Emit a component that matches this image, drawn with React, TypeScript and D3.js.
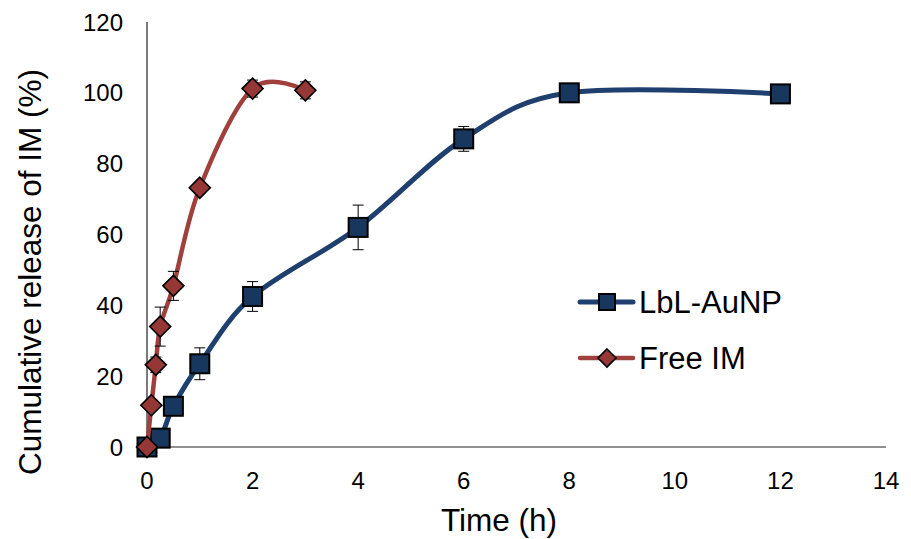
import React from "react";
import * as d3 from "d3";

const lblTime = [0, 0.25, 0.5, 1, 2, 4, 6, 8, 12];
const lblRelease = [0, 2.5, 11.5, 23.5, 42.5, 62, 87, 100, 99.7];
const lblError = [0, 0.5, 1, 4.5, 4.2, 6.3, 3.5, 1, 1];

const freeTime = [0, 0.083, 0.167, 0.25, 0.5, 1, 2, 3];
const freeRelease = [0, 11.8, 23.2, 34, 45.5, 73.2, 101.2, 100.7];
const freeError = [0, 1, 2.2, 5.5, 4.1, 1.5, 2.4, 2.4];

const xTicks = [0, 2, 4, 6, 8, 10, 12, 14];
const yTicks = [0, 20, 40, 60, 80, 100, 120];

const seriesNames = ["LbL-AuNP", "Free IM"];

const W = 911;
const H = 539;
const FONT = "'Liberation Sans', Arial, sans-serif";

const BLUE_LINE = "#1F3F6E";
const BLUE_FILL = "#17375E";
const RED_LINE = "#A0403C";
const RED_FILL = "#953735";

export default function App() {
  const x = d3.scaleLinear().domain([0, 14]).range([147, 886]);
  const y = d3.scaleLinear().domain([0, 120]).range([447, 22]);
  const line = d3
    .line<[number, number]>()
    .x((d) => x(d[0]))
    .y((d) => y(d[1]))
    .curve(d3.curveCardinal.tension(0));

  const lblPts: [number, number][] = lblTime.map((t, i) => [t, lblRelease[i]]);
  const freePts: [number, number][] = freeTime.map((t, i) => [t, freeRelease[i]]);

  const errBars = (times: number[], vals: number[], errs: number[], key: string) =>
    times.map((t, i) => {
      const cx = x(t);
      const y1 = y(vals[i] + errs[i]);
      const y2 = y(vals[i] - errs[i]);
      return (
        <g key={key + i} stroke="#000" strokeWidth={1}>
          <line x1={cx} x2={cx} y1={y1} y2={y2} />
          <line x1={cx - 5.5} x2={cx + 5.5} y1={y1} y2={y1} />
          <line x1={cx - 5.5} x2={cx + 5.5} y1={y2} y2={y2} />
        </g>
      );
    });

  const square = (cx: number, cy: number, s: number, key: string) => (
    <rect
      key={key}
      x={cx - s / 2}
      y={cy - s / 2}
      width={s}
      height={s}
      fill={BLUE_FILL}
      stroke="#000"
      strokeWidth={2}
    />
  );
  const diamond = (cx: number, cy: number, s: number, key: string) => (
    <path
      key={key}
      d={`M${cx},${cy - s / 2}L${cx + s / 2},${cy}L${cx},${cy + s / 2}L${cx - s / 2},${cy}Z`}
      fill={RED_FILL}
      stroke="#000"
      strokeWidth={1.6}
    />
  );

  return (
    <svg
      width={W}
      height={H}
      style={{ position: "absolute", left: 0, top: 0, background: "#fff" }}
      fontFamily={FONT}
    >
      <rect width={W} height={H} fill="#fff" />
      {/* axes */}
      <line x1={147} x2={147} y1={y(120)} y2={y(0)} stroke="#222" strokeWidth={1.2} />
      <line x1={x(0)} x2={x(14)} y1={y(0)} y2={y(0)} stroke="#222" strokeWidth={1.2} />
      {yTicks.map((t) => (
        <text key={"y" + t} x={123} y={y(t)} dy="0.36em" textAnchor="end" fontSize={24} fill="#000">
          {t}
        </text>
      ))}
      {xTicks.map((t) => (
        <text key={"x" + t} x={x(t)} y={480} dy="0.36em" textAnchor="middle" fontSize={24} fill="#000">
          {t}
        </text>
      ))}
      <text x={499} y={520} dy="0.36em" textAnchor="middle" fontSize={31.5} fill="#000">
        Time (h)
      </text>
      <text
        transform={`translate(30,272) rotate(-90)`}
        dy="0.36em"
        textAnchor="middle"
        fontSize={31.5}
        fill="#000"
      >
        Cumulative release of IM (%)
      </text>

      {/* series 1 */}
      <path d={line(lblPts) || ""} fill="none" stroke={BLUE_LINE} strokeWidth={5} />
      {errBars(lblTime, lblRelease, lblError, "le")}
      {lblPts.map((p, i) => square(x(p[0]), y(p[1]), 19, "ls" + i))}

      {/* series 2 */}
      <path d={line(freePts) || ""} fill="none" stroke={RED_LINE} strokeWidth={4.5} />
      {errBars(freeTime, freeRelease, freeError, "fe")}
      {freePts.map((p, i) => diamond(x(p[0]), y(p[1]), 21, "fd" + i))}

      {/* legend */}
      <line x1={580} x2={633} y1={302} y2={302} stroke={BLUE_LINE} strokeWidth={5} strokeLinecap="round" />
      {square(607, 302, 16, "legs")}
      <text x={639} y={302} dy="0.36em" fontSize={31} fill="#000">
        {seriesNames[0]}
      </text>
      <line x1={580} x2={633} y1={358} y2={358} stroke={RED_LINE} strokeWidth={4.5} strokeLinecap="round" />
      {diamond(607, 358, 18, "legd")}
      <text x={639} y={358} dy="0.36em" fontSize={31} fill="#000">
        {seriesNames[1]}
      </text>
    </svg>
  );
}
